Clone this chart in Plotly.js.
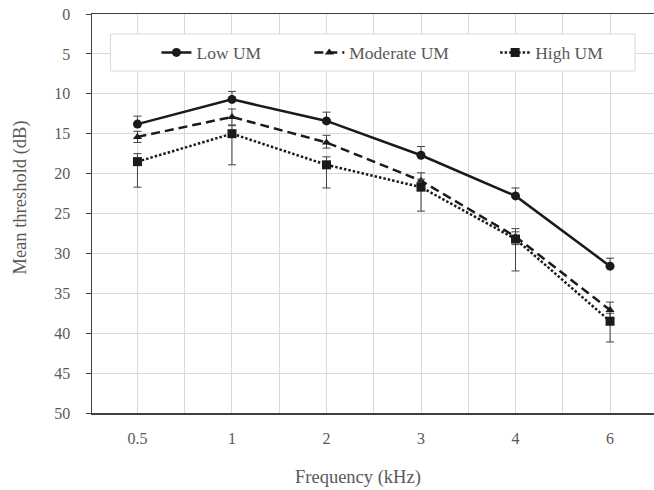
<!DOCTYPE html>
<html>
<head>
<meta charset="utf-8">
<script src="https://cdn.plot.ly/plotly-3.0.1.min.js"></script>
<style>html,body{margin:0;padding:0;background:#fff;}#chart{width:654px;height:490px;}</style>
</head>
<body>
<div id="chart"></div>
<script>
// ---- data ----
const categories = ['0.5', '1', '2', '3', '4', '6'];          // frequency, kHz
const seriesNames = ['Low UM', 'Moderate UM', 'High UM'];

const lowUM      = [13.8, 10.7, 13.4, 17.7, 22.8, 31.6];
const lowErrUp   = [1.0, 1.0, 1.1, 1.1, 1.0, 1.0];
const lowErrDown = [0, 0, 0, 0, 0, 0];

const modUM      = [15.4, 12.9, 16.1, 20.9, 27.9, 37.1];
const modErrUp   = [0.7, 1.0, 0.9, 1.0, 1.0, 1.0];
const modErrDown = [0.7, 1.0, 0.7, 1.0, 1.0, 1.0];

const highUM      = [18.5, 15.0, 18.9, 21.7, 28.2, 38.5];
const highErrUp   = [1.0, 1.0, 1.0, 1.0, 0.9, 1.0];
const highErrDown = [3.2, 3.9, 2.9, 3.0, 4.0, 2.6];

const yTicks = [0, 5, 10, 15, 20, 25, 30, 35, 40, 45, 50];

// ---- geometry helpers ----
const W = 654, H = 490;
const M = {l: 91.5, r: 0, t: 14, b: 77};
const PW = W - M.l - M.r, PH = H - M.t - M.b;
const px2x = p => (p - M.l) / PW;
const px2y = p => (H - M.b - p) / PH;

const xIdx = categories.map((c, i) => i);
// gridlines at category centres and boundaries
const gridVals = [], gridText = [];
categories.forEach((c, i) => {
  gridVals.push(i); gridText.push(c);
  if (i < categories.length - 1) { gridVals.push(i + 0.5); gridText.push(''); }
});

const ink = '#1a1a1a';
const font = 'Liberation Serif, Times New Roman, serif';
const grey = '#595959';

function errObj(up, down) {
  return {type: 'data', symmetric: false, array: down, arrayminus: up,
          color: '#404040', thickness: 1, width: 4};
}

const traces = [
  {x: xIdx, y: lowUM, name: seriesNames[0], type: 'scatter', mode: 'lines+markers',
   line: {color: ink, width: 2.5, dash: 'solid'},
   marker: {symbol: 'circle', size: 9, color: ink},
   error_y: errObj(lowErrUp, lowErrDown), legend: 'legend'},
  {x: xIdx, y: modUM, name: seriesNames[1], type: 'scatter', mode: 'lines+markers',
   line: {color: ink, width: 2.5, dash: '9px,5px'},
   marker: {symbol: 'triangle-up', size: 8, color: ink},
   error_y: errObj(modErrUp, modErrDown), legend: 'legend2'},
  {x: xIdx, y: highUM, name: seriesNames[2], type: 'scatter', mode: 'lines+markers',
   line: {color: ink, width: 2.5, dash: '2.5px,2px'},
   marker: {symbol: 'square', size: 9, color: ink},
   error_y: errObj(highErrUp, highErrDown), legend: 'legend3'}
];

const legendBase = {orientation: 'h', xanchor: 'left', yanchor: 'middle', y: px2y(52.5),
  bgcolor: 'rgba(0,0,0,0)', borderwidth: 0, font: {family: font, size: 17.5, color: grey}};

const layout = {
  width: W, height: H,
  margin: M,
  paper_bgcolor: '#fff', plot_bgcolor: '#fff',
  showlegend: true,
  legend:  Object.assign({}, legendBase, {x: px2x(156)}),
  legend2: Object.assign({}, legendBase, {x: px2x(309)}),
  legend3: Object.assign({}, legendBase, {x: px2x(495)}),
  xaxis: {
    range: [-0.481, 5.465], tickmode: 'array', tickvals: gridVals, ticktext: gridText,
    showgrid: true, gridcolor: '#d9d9d9', gridwidth: 1, zeroline: false,
    showline: true, linecolor: '#404040', linewidth: 1.5, mirror: true,
    ticks: '', ticklabelstandoff: 10,
    tickfont: {family: font, size: 16, color: grey}, fixedrange: true
  },
  yaxis: {
    range: [50, 0], tickmode: 'array', tickvals: yTicks,
    showgrid: true, gridcolor: '#d9d9d9', gridwidth: 1, zeroline: false,
    showline: true, linecolor: '#404040', linewidth: 1.5,
    ticks: 'outside', ticklen: 5, tickcolor: '#404040', ticklabelstandoff: 12,
    tickfont: {family: font, size: 16, color: grey}, fixedrange: true
  },
  shapes: [{type: 'rect', xref: 'paper', yref: 'paper', layer: 'above',
    x0: px2x(110), x1: px2x(635), y0: px2y(71), y1: px2y(34),
    fillcolor: '#fff', line: {color: '#d9d9d9', width: 1}}],
  annotations: [
    {text: 'Frequency (kHz)', xref: 'paper', yref: 'paper', x: px2x(358), y: px2y(477),
     xanchor: 'center', yanchor: 'middle', showarrow: false,
     font: {family: font, size: 18.5, color: grey}},
    {text: 'Mean threshold (dB)', xref: 'paper', yref: 'paper', x: px2x(19), y: px2y(198),
     xanchor: 'center', yanchor: 'middle', textangle: -90, showarrow: false,
     font: {family: font, size: 18.5, color: grey}}
  ]
};

Plotly.newPlot('chart', traces, layout, {displayModeBar: false, staticPlot: true});
</script>
</body>
</html>
